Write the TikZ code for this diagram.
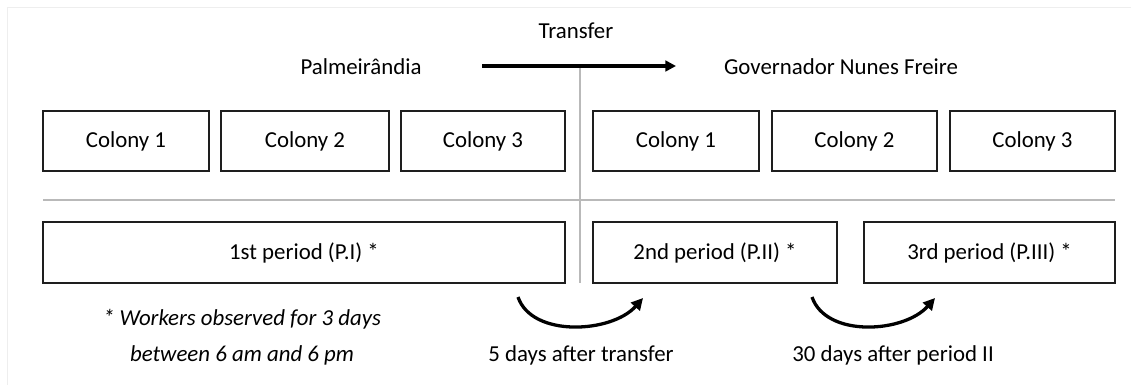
\documentclass[tikz,border=0pt]{standalone}
\usepackage{fontspec}
\setmainfont{Carlito}
\usetikzlibrary{arrows.meta,positioning,calc}
\definecolor{boxblack}{RGB}{30,30,30}
\definecolor{divgray}{RGB}{185,185,185}
\definecolor{framegray}{RGB}{238,238,238}
\newcommand{\px}{0.03cm}

\begin{document}
\begin{tikzpicture}[x=0.03cm, y=-0.03cm,
    box/.style={rectangle, draw=boxblack, line width=1.5pt, minimum height=60*\px, inner sep=0pt},
    txt/.style={font=\fontsize{19.5}{26.5}\selectfont, text=black},
    divider/.style={draw=divgray, line width=2.4pt},
    arrow/.style={-{Triangle[length=9pt,width=9pt]}, line width=2.8pt, black},
    hop/.style={-{Triangle[length=10pt,width=10pt]}, line width=2.8pt, black}
]
\useasboundingbox (0,0) rectangle (1131,385);
\draw[framegray, line width=0.8pt] (7,385) -- (7,7) -- (1131,7);

% Header: sites and transfer
\node[txt] (transfer) at (576,31) {Transfer};
\node[txt] (palm) at (361,67) {Palmeirândia};
\node[txt] (gnf) at (841,67) {Governador Nunes Freire};
\coordinate (tstart) at (482,66);
\coordinate (tend) at (676,66);

% Dividers
\draw[divider] (580,68) -- (580,283);
\draw[divider] (43,200) -- (1115,200);
\draw[arrow] (tstart) -- (tend);

% Colonies
\node[box, txt, minimum width=166*\px] (pc1) at (126,141) {Colony 1};
\node[box, txt, minimum width=168*\px] (pc2) at (305,141) {Colony 2};
\node[box, txt, minimum width=164*\px] (pc3) at (483,141) {Colony 3};
\node[box, txt, minimum width=166*\px] (gc1) at (676,141) {Colony 1};
\node[box, txt, minimum width=165*\px] (gc2) at (854.5,141) {Colony 2};
\node[box, txt, minimum width=165*\px] (gc3) at (1032.5,141) {Colony 3};

% Periods
\node[box, txt, minimum width=522*\px, minimum height=61*\px] (p1) at (304,252.5) {1st period (P.I) *};
\node[box, txt, minimum width=244*\px, minimum height=61*\px] (p2) at (715,252.5) {2nd period (P.II) *};
\node[box, txt, minimum width=251*\px, minimum height=61*\px] (p3) at (989.5,252.5) {3rd period (P.III) *};

% Time between periods
\coordinate (h1a) at (518,297);
\coordinate (h1b) at (643,298);
\coordinate (h2a) at (812,297);
\coordinate (h2b) at (935,298);
\draw[hop] (h1a) .. controls (532,338) and (612,333) .. (h1b);
\draw[hop] (h2a) .. controls (826,338) and (904,333) .. (h2b);
\node[txt] (gap1) at (581,355) {5 days after transfer};
\node[txt] (gap2) at (893,355) {30 days after period II};

% Footnote
\node[txt, align=center, font=\fontsize{19.5}{31}\selectfont\itshape] (note) at (242,337) {* Workers observed for 3 days\\between 6 am and 6 pm};

\end{tikzpicture}
\end{document}
